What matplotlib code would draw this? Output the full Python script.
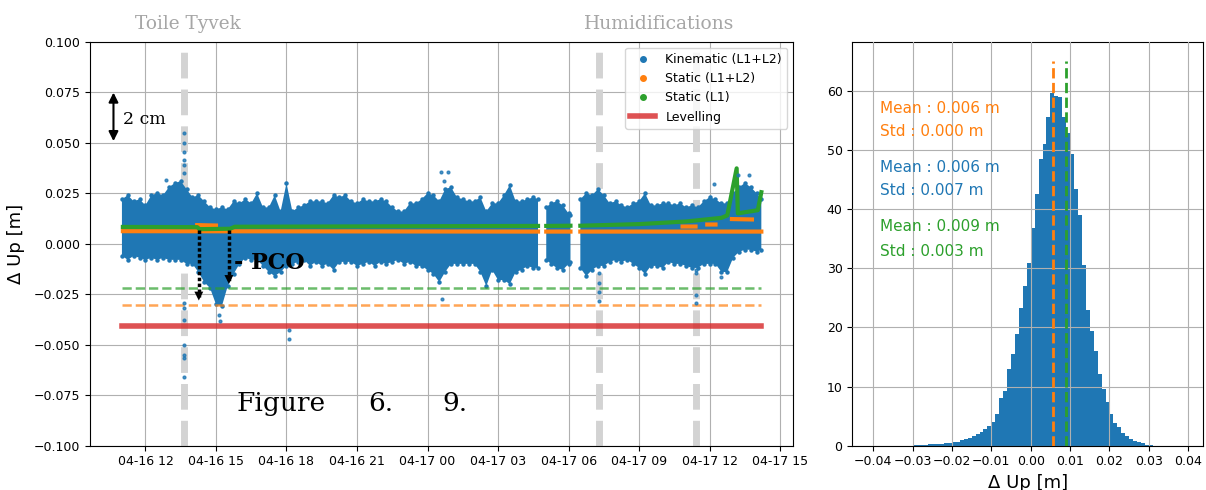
import numpy as np
import pandas as pd
import matplotlib
matplotlib.use("Agg")
import matplotlib.pyplot as plt
import matplotlib.dates as mdates
import matplotlib.transforms as mtransforms
from matplotlib.lines import Line2D

# ---- data (hours since 04-16 00:00, Delta Up in m) ----
kin_t = [11.00, 11.25, 11.50, 11.75, 12.00, 12.25, 12.50, 12.75, 13.00, 13.25,
         13.50, 13.75, 14.00, 14.25, 14.50, 14.75, 15.00, 15.25, 15.50, 15.75,
         16.00, 16.25, 16.50, 16.75, 17.00, 17.25, 17.50, 17.75, 18.00, 18.25,
         18.50, 18.75, 19.00, 19.25, 19.50, 19.75, 20.00, 20.25, 20.50, 20.75,
         21.00, 21.25, 21.50, 21.75, 22.00, 22.25, 22.50, 22.75, 23.00, 23.25,
         23.50, 23.75, 24.00, 24.25, 24.50, 24.75, 25.00, 25.25, 25.50, 25.75,
         26.00, 26.25, 26.50, 26.75, 27.00, 27.25, 27.50, 27.75, 28.00, 28.25,
         28.50, 28.70, 28.85, 29.05, 29.25, 29.50, 29.75, 30.00, 30.08, 30.30,
         30.50, 30.75, 31.00, 31.25, 31.50, 31.75, 32.00, 32.25, 32.50, 32.75,
         33.00, 33.25, 33.50, 33.75, 34.00, 34.25, 34.50, 34.75, 35.00, 35.25,
         35.50, 35.75, 36.00, 36.25, 36.50, 36.75, 37.00, 37.25, 37.50, 37.75,
         38.00, 38.20]
kin_hi = [0.022, 0.024, 0.021, 0.022, 0.019, 0.024, 0.025, 0.024, 0.028, 0.030,
          0.031, 0.027, 0.023, 0.024, 0.021, 0.018, 0.017, 0.018, 0.017, 0.021,
          0.020, 0.022, 0.020, 0.025, 0.018, 0.018, 0.024, 0.016, 0.030, 0.016,
          0.018, 0.019, 0.021, 0.021, 0.021, 0.020, 0.024, 0.023, 0.024, 0.021,
          0.020, 0.022, 0.021, 0.021, 0.022, 0.021, 0.018, 0.016, 0.016, 0.020,
          0.020, 0.022, 0.025, 0.024, 0.021, 0.027, 0.028, 0.023, 0.022, 0.021,
          0.021, 0.023, 0.016, 0.020, 0.020, 0.024, 0.029, 0.021, 0.021, 0.022,
          0.023, 0.022, np.nan, 0.018, 0.020, 0.021, 0.019, 0.015, 0.014, np.nan,
          0.022, 0.025, 0.024, 0.027, 0.024, 0.020, 0.021, 0.019, 0.018, 0.020,
          0.021, 0.025, 0.019, 0.019, 0.020, 0.020, 0.019, 0.020, 0.018, 0.019,
          0.018, 0.021, 0.023, 0.022, 0.020, 0.020, 0.025, 0.028, 0.030, 0.028,
          0.025, 0.022]
kin_lo = [-0.006, -0.008, -0.006, -0.007, -0.008, -0.007, -0.008, -0.007, -0.008, -0.008,
          -0.008, -0.010, -0.010, -0.014, -0.019, -0.022, -0.030, -0.031, -0.021, -0.015,
          -0.010, -0.007, -0.008, -0.008, -0.011, -0.014, -0.016, -0.014, -0.011, -0.010,
          -0.009, -0.008, -0.011, -0.009, -0.011, -0.010, -0.013, -0.009, -0.009, -0.009,
          -0.011, -0.010, -0.009, -0.011, -0.009, -0.010, -0.009, -0.008, -0.010, -0.009,
          -0.011, -0.011, -0.013, -0.015, -0.019, -0.014, -0.010, -0.010, -0.010, -0.010,
          -0.010, -0.014, -0.021, -0.013, -0.018, -0.018, -0.020, -0.014, -0.013, -0.011,
          -0.012, -0.012, np.nan, -0.008, -0.010, -0.012, -0.013, -0.010, -0.009, np.nan,
          -0.012, -0.016, -0.013, -0.011, -0.011, -0.009, -0.008, -0.009, -0.008, -0.010,
          -0.012, -0.015, -0.011, -0.011, -0.012, -0.009, -0.010, -0.010, -0.011, -0.012,
          -0.012, -0.010, -0.010, -0.010, -0.014, -0.014, -0.007, -0.004, -0.003, -0.003,
          -0.004, -0.003]

out_t = [13.63, 13.63, 13.63, 13.63, 13.63, 13.63, 13.63, 13.63, 13.63, 13.63,
         13.63, 13.63, 13.63, 15.14, 15.16, 18.12, 18.12, 12.88, 24.57, 24.86,
         24.70, 24.61, 31.30, 31.30, 31.30, 31.30, 35.44, 35.44, 35.44, 35.44,
         36.18, 37.20, 37.67, 36.50]
out_v = [0.0547, 0.0497, 0.0455, 0.0414, 0.0390, 0.0348, -0.0295, -0.0320, -0.0378, -0.0500,
         -0.0550, -0.0567, -0.0658, -0.0355, -0.0383, -0.0427, -0.0472, 0.0314, 0.0356, 0.0356,
         0.0310, -0.0275, -0.0147, -0.0196, -0.0238, -0.0283, -0.0130, -0.0147, -0.0254, -0.0295,
         0.0294, 0.0340, 0.0340, -0.0166]

stat_t = [11.04, 28.70, 28.85, 29.05, 30.08, 30.30, 30.50, 38.20]
stat_v = [0.0062, 0.0060, np.nan, 0.0060, 0.0060, np.nan, 0.0060, 0.0060]
stat_x_t = [14.20, 15.00, 15.01, 34.85, 35.40, 35.41, 35.90, 36.25, 36.26, 36.95, 37.80]
stat_x_v = [0.0092, 0.0090, np.nan, 0.0085, 0.0085, np.nan, 0.0095, 0.0095, np.nan, 0.0122, 0.0120]

l1_t = [11.04, 14.20, 14.30, 15.60, 15.80, 28.70, 28.85, 29.05, 30.08, 30.30,
        30.50, 33.00, 35.00, 36.50, 36.75, 37.15, 37.20, 38.05, 38.20]
l1_v = [0.0083, 0.0082, 0.0072, 0.0074, 0.0084, 0.0088, np.nan, 0.0088, 0.0089, np.nan,
        0.0089, 0.0097, 0.0110, 0.0128, 0.0140, 0.0373, 0.0150, 0.0166, 0.0255]

lev_static_l1 = -0.0221
lev_static = -0.0303
levelling = -0.0406
events = [13.63, 31.30, 35.44]

hist_lo, hist_w = -0.030, 0.001
hist_h = [0.15, 0.2, 0.2, 0.2, 0.25, 0.3, 0.3, 0.35, 0.4, 0.45,
          0.55, 0.7, 0.9, 1.1, 1.3, 1.7, 2.0, 2.3, 2.8, 3.4,
          4.0, 5.4, 8.1, 9.3, 13.0, 15.5, 18.8, 23.2, 27.0, 30.8,
          36.8, 42.6, 48.4, 51.0, 55.6, 59.5, 59.1, 58.9, 55.5, 52.8,
          49.3, 43.4, 38.9, 30.5, 23.0, 19.4, 16.0, 12.1, 9.6, 7.3,
          5.3, 3.9, 3.1, 2.2, 1.7, 1.1, 0.85, 0.56, 0.4, 0.2, 0.1]
mean_static, mean_kin, mean_l1 = 0.0056, 0.0058, 0.0089

base = pd.Timestamp("2021-04-16")


def dt(h):
    return base + pd.to_timedelta(np.asarray(h, dtype=float), unit="h")


def num(h):
    return mdates.date2num(base + pd.Timedelta(hours=h))


blue, orange, green, red = "#1f77b4", "#ff7f0e", "#2ca02c", "#d62728"

fig = plt.figure(figsize=(12.06, 4.9), dpi=100)
ax = fig.add_axes([0.0746, 0.0904, 0.5832, 0.8245])
ax2 = fig.add_axes([0.7067, 0.0904, 0.2910, 0.8245])

# ---- time series ----
ax.set_axisbelow(True)
for h in events:
    ax.axvline(dt([h])[0], color="#d3d3d3", lw=5, ls="--", zorder=1)
ax.fill_between(dt(kin_t), kin_lo, kin_hi, color=blue, lw=0, zorder=2)
# dotted edges give the band its scattered look
ax.plot(dt(kin_t), kin_hi, "o", ms=2.2, color=blue, zorder=2)
ax.plot(dt(kin_t), kin_lo, "o", ms=2.2, color=blue, zorder=2)
ax.plot(dt(out_t), out_v, "o", ms=2, color=blue, alpha=0.8, zorder=4)
ax.plot(dt(stat_t), stat_v, "-", lw=3, color=orange, zorder=3)
ax.plot(dt(stat_x_t), stat_x_v, "-", lw=3, color=orange, zorder=3)
ax.plot(dt(l1_t), l1_v, "-", lw=3, color=green, zorder=3)

span = dt([kin_t[0], kin_t[-1]])
ax.plot(span, [lev_static_l1] * 2, "--", lw=1.8, color=green, alpha=0.7, zorder=3)
ax.plot(span, [lev_static] * 2, "--", lw=1.8, color=orange, alpha=0.7, zorder=3)
ax.plot(span, [levelling] * 2, "-", lw=4, color=red, alpha=0.8, zorder=3)

ax.set_ylim(-0.1, 0.1)
ax.set_yticks(np.arange(-0.1, 0.1001, 0.025))
ax.xaxis.set_major_locator(mdates.HourLocator(byhour=range(0, 24, 3)))
ax.xaxis.set_major_formatter(mdates.DateFormatter("%m-%d %H"))
ax.tick_params(labelsize=9)
ax.grid(True, color="#b0b0b0", lw=0.8)
ax.set_ylabel("Δ Up [m]", fontsize=13, labelpad=6)

handles = [
    Line2D([], [], marker="o", ls="", ms=4, color=blue, label="Kinematic (L1+L2)"),
    Line2D([], [], marker="o", ls="", ms=4, color=orange, label="Static (L1+L2)"),
    Line2D([], [], marker="o", ls="", ms=4, color=green, label="Static (L1)"),
    Line2D([], [], lw=4, color=red, alpha=0.8, label="Levelling"),
]
ax.legend(handles=handles, loc="upper right", fontsize=9)

# annotations
top = mtransforms.blended_transform_factory(ax.transData, ax.transAxes)
ax.text(num(13.80), 1.044, "Toile Tyvek", transform=top, ha="center", va="center",
        fontsize=13.3, color="#a6a6a6", family="DejaVu Serif")
ax.text(num(33.87), 1.044, "Humidifications", transform=top, ha="center", va="center",
        fontsize=13.5, color="#a6a6a6", family="DejaVu Serif")

ax.annotate("", xy=(num(10.64), 0.0494), xytext=(num(10.64), 0.0762),
            arrowprops=dict(arrowstyle="<|-|>", color="k", lw=1.5, mutation_scale=14))
ax.text(num(11.04), 0.0616, "2 cm", fontsize=12.4, va="center", family="DejaVu Serif")

for h, y0, y1 in [(14.27, 0.0067, -0.0295), (15.55, 0.0067, -0.0213)]:
    ax.plot([num(h), num(h)], [y0, y1 + 0.003], color="k", lw=2.5, ls=(0, (1, 0.7)), zorder=5)
    ax.annotate("", xy=(num(h), y1), xytext=(num(h), y1 + 0.004),
                arrowprops=dict(arrowstyle="-|>", color="k", lw=0, mutation_scale=16), zorder=5)
ax.text(num(15.77), -0.0097, "- PCO", fontsize=16, fontweight="bold", va="center",
        family="DejaVu Serif", zorder=6)

for h, s in [(15.86, "Figure"), (21.46, "6."), (24.64, "9.")]:
    ax.text(num(h), -0.079, s, fontsize=19, va="center", family="DejaVu Serif")

# ---- histogram ----
edges = hist_lo + hist_w * np.arange(len(hist_h) + 1)
ax2.set_axisbelow(False)
ax2.stairs(hist_h, edges, fill=True, color=blue, zorder=1)
ax2.plot([mean_static] * 2, [0, 65], "--", lw=2, color=orange, zorder=3)
ax2.plot([mean_l1] * 2, [0, 65], "--", lw=2, color=green, zorder=3)
ax2.set_xlim(-0.0453, 0.0438)
ax2.set_ylim(0, 68.25)
ax2.set_xticks(np.arange(-0.04, 0.0401, 0.01))
ax2.set_yticks(np.arange(0, 61, 10))
ax2.tick_params(labelsize=9)
ax2.grid(True, color="#b0b0b0", lw=0.8)
ax2.set_xlabel("Δ Up [m]", fontsize=13)

stats = [(56.9, "Mean : 0.006 m", orange), (53.1, "Std : 0.000 m", orange),
         (47.05, "Mean : 0.006 m", blue), (43.1, "Std : 0.007 m", blue),
         (37.0, "Mean : 0.009 m", green), (32.8, "Std : 0.003 m", green)]
for y, s, c in stats:
    ax2.text(-0.0383, y, s, color=c, fontsize=11, va="center")

fig.savefig("out.png", dpi=100)
